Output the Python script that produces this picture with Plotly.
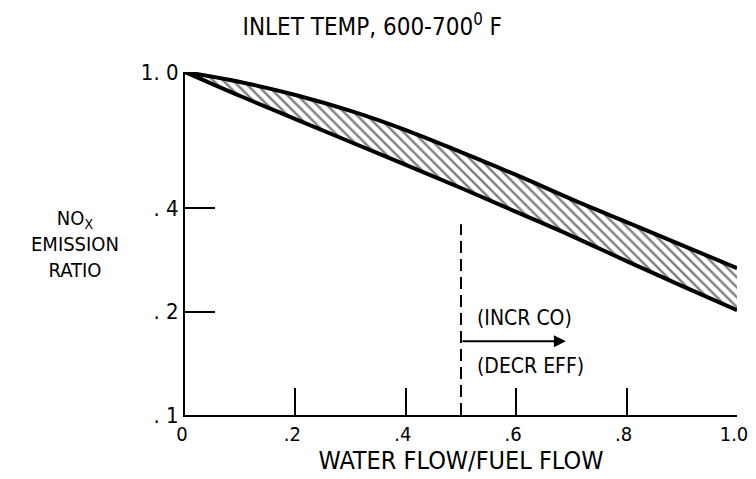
import plotly.graph_objects as go
import numpy as np

# water flow / fuel flow
water_fuel = [0.0, 0.1, 0.2, 0.3, 0.4, 0.5, 0.6, 0.7, 0.8, 0.9, 1.0]
# NOx emission ratio, upper and lower bounds of the band
nox_upper = [1.0, 0.935, 0.857, 0.770, 0.677, 0.584, 0.501, 0.426, 0.365, 0.313, 0.268]
nox_lower = [1.0, 0.851, 0.729, 0.625, 0.536, 0.459, 0.391, 0.333, 0.281, 0.238, 0.202]

x_ticks = [0, 0.2, 0.4, 0.6, 0.8, 1.0]
x_labels = ["0", ".2", ".4", ".6", ".8", "1.0"]
y_ticks = [0.1, 0.2, 0.4, 1.0]
y_labels = [". 1", ". 2", ". 4", "1. 0"]

limit_x = 0.5      # start of CO / efficiency penalty
limit_top = 0.36
arrow_end = 0.69

FONT = "DejaVu Sans Condensed, Liberation Sans Narrow, Arial Narrow, sans-serif"

fig = go.Figure()

fig.add_trace(go.Scatter(
    x=water_fuel, y=nox_lower, mode="lines",
    line=dict(color="black", width=4, shape="spline"),
    showlegend=False, hoverinfo="skip"))
fig.add_trace(go.Scatter(
    x=water_fuel, y=nox_upper, mode="lines",
    line=dict(color="black", width=4, shape="spline"),
    fill="tonexty", fillcolor="white",
    fillpattern=dict(shape="\\", fgcolor="black", bgcolor="white", size=7, solidity=0.35),
    showlegend=False, hoverinfo="skip"))

# dashed limit line
fig.add_trace(go.Scatter(
    x=[limit_x, limit_x], y=[0.1, limit_top], mode="lines",
    line=dict(color="black", width=2, dash="12px,6px"),
    showlegend=False, hoverinfo="skip"))

fig.add_annotation(x=arrow_end, y=np.log10(0.164), ax=limit_x, ay=np.log10(0.164),
                   xref="x", yref="y", axref="x", ayref="y",
                   showarrow=True, arrowhead=2, arrowsize=1.2, arrowwidth=2,
                   arrowcolor="black", text="")
fig.add_annotation(x=0.526, y=np.log10(0.192), xref="x", yref="y",
                   text="(INCR CO)", showarrow=False, xanchor="left",
                   font=dict(size=21, color="black", family=FONT))
fig.add_annotation(x=0.526, y=np.log10(0.139), xref="x", yref="y",
                   text="(DECR EFF)", showarrow=False, xanchor="left",
                   font=dict(size=21, color="black", family=FONT))

# y axis title
fig.add_annotation(x=-0.199, y=0.5, xref="paper", yref="paper",
                   text="NO<sub>X</sub><br>EMISSION<br>RATIO", showarrow=False,
                   align="center", xanchor="center", yanchor="middle",
                   font=dict(size=20, color="black", family=FONT))

# page body adds an 8px margin, so the figure is sized to fit the window
fig.update_layout(
    width=748, height=471,
    margin=dict(l=177, r=19, t=64, b=64, autoexpand=False),
    paper_bgcolor="white", plot_bgcolor="white",
    font=dict(family=FONT, color="black", size=21),
    title=dict(text="INLET TEMP, 600-700<sup>0</sup> F", x=0.487, xanchor="center",
               y=0.96, yanchor="middle", font=dict(size=24, family=FONT)),
)
fig.update_xaxes(range=[0, 1.0], tickvals=x_ticks, ticktext=x_labels,
                 ticks="inside", ticklen=27, tickwidth=2, tickcolor="black",
                 showline=True, linecolor="black", linewidth=2, showgrid=False,
                 zeroline=False, automargin=False, ticklabelshift=-3,
                 title=dict(text="WATER FLOW/FUEL FLOW", standoff=0),
                 tickfont=dict(size=20))
fig.update_yaxes(type="log", range=[-1, 0], tickvals=y_ticks, ticktext=y_labels,
                 ticks="inside", ticklen=30, tickwidth=2, tickcolor="black",
                 showline=True, linecolor="black", linewidth=2, showgrid=False,
                 zeroline=False, automargin=False, tickfont=dict(size=22))

fig.write_html("out.html")
